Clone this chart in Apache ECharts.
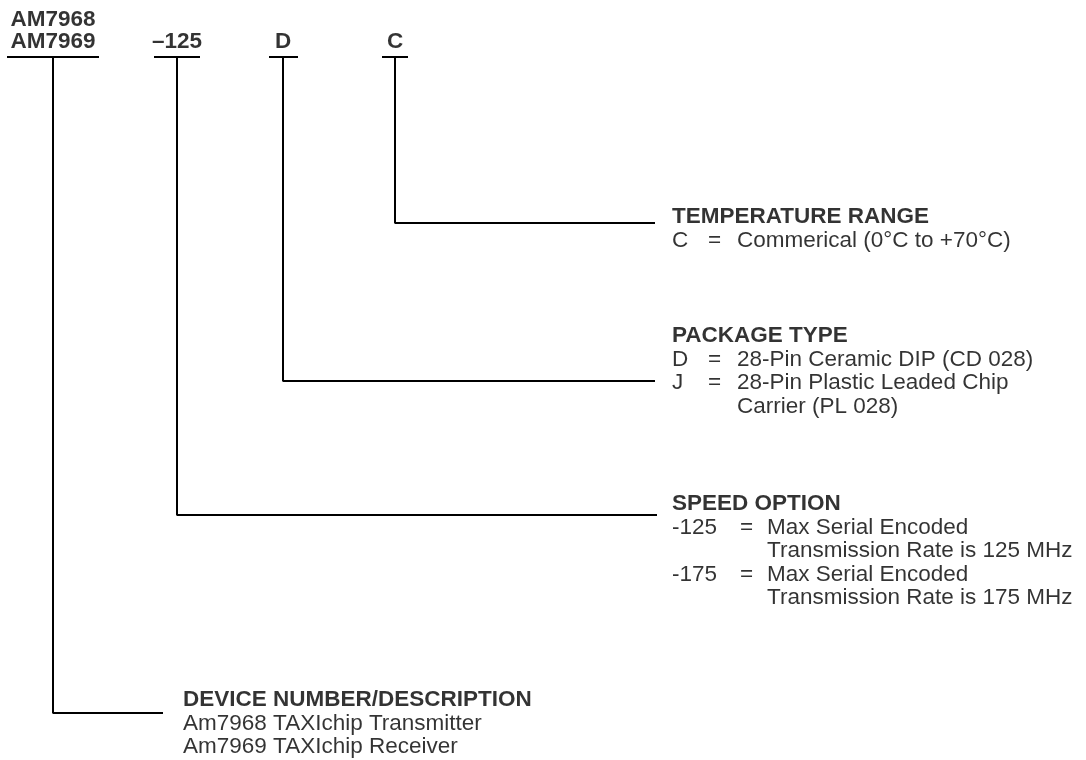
<!DOCTYPE html>
<html>
<head>
<meta charset="utf-8">
<script src="https://cdn.jsdelivr.net/npm/echarts@6/dist/echarts.min.js"></script>
<style>
  html, body { margin: 0; padding: 0; background: #fff; }
  #main { width: 1086px; height: 760px; }
</style>
</head>
<body>
<div id="main"></div>
<script>
// ordering code fields, left to right
const codeParts = ['AM7968\nAM7969', '–125', 'D', 'C'];
const headings = ['DEVICE NUMBER/DESCRIPTION', 'SPEED OPTION', 'PACKAGE TYPE', 'TEMPERATURE RANGE'];
// option rows: [code, description]
const deviceRows = [['', 'Am7968 TAXIchip Transmitter'], ['', 'Am7969 TAXIchip Receiver']];
const speedRows = [
  ['-125', 'Max Serial Encoded'], ['', 'Transmission Rate is 125 MHz'],
  ['-175', 'Max Serial Encoded'], ['', 'Transmission Rate is 175 MHz']
];
const packageRows = [['D', '28-Pin Ceramic DIP (CD 028)'], ['J', '28-Pin Plastic Leaded Chip'], ['', 'Carrier (PL 028)']];
const tempRows = [['C', 'Commerical (0°C to +70°C)']];
const fieldRows = [deviceRows, speedRows, packageRows, tempRows];

// layout (page pixels, y down)
const layout = {
  underlineY: 57,
  underlines: [[7, 99], [154, 200], [269, 298], [382, 408]],
  leadX: [53, 177, 283, 395],
  codeY: [31, 42, 42, 42],
  branchY: [713, 515, 381, 223],
  branchEnd: [163, 657, 655, 655],
  textX: [183, 672, 672, 672],
  eqX: [0, 740, 708, 708],
  valX: [183, 767, 737, 737],
  headY: [700, 504, 336, 217],
  lineGap: 23.5
};

const FONT = '"Liberation Sans", Arial, sans-serif';
const FS = 22.5;

let myChart = echarts.init(document.getElementById('main'));

let series = [];
// underlines and leader lines
codeParts.forEach(function (p, i) {
  let u = layout.underlines[i];
  series.push({
    type: 'line', symbol: 'none', silent: true,
    lineStyle: { color: '#000', width: 2 },
    data: [[u[0], layout.underlineY], [u[1], layout.underlineY]]
  });
  series.push({
    type: 'line', symbol: 'none', silent: true,
    lineStyle: { color: '#000', width: 2 },
    data: [
      [layout.leadX[i], layout.underlineY],
      [layout.leadX[i], layout.branchY[i]],
      [layout.branchEnd[i], layout.branchY[i]]
    ]
  });
});

// code letters on top
series.push({
  type: 'scatter', symbolSize: 0, silent: true,
  data: codeParts.map(function (p, i) {
    return { value: [layout.leadX[i], layout.codeY[i]], name: p };
  }),
  label: {
    show: true, position: 'inside', formatter: '{b}',
    fontFamily: FONT, fontSize: FS, fontWeight: 'bold', color: '#000', lineHeight: 21.5,
    align: 'center', verticalAlign: 'middle'
  }
});

// headings and option text
let bold = [], plain = [];
headings.forEach(function (h, i) {
  bold.push({ value: [layout.textX[i], layout.headY[i]], name: h });
  fieldRows[i].forEach(function (r, k) {
    let y = layout.headY[i] + layout.lineGap * (k + 1);
    if (r[0]) {
      plain.push({ value: [layout.textX[i], y], name: r[0] });
      plain.push({ value: [layout.eqX[i], y], name: '=' });
    }
    plain.push({ value: [layout.valX[i], y], name: r[1] });
  });
});
[[bold, 'bold'], [plain, 'normal']].forEach(function (s) {
  series.push({
    type: 'scatter', symbolSize: 0, silent: true,
    data: s[0],
    label: {
      show: true, position: 'inside', formatter: '{b}',
      fontFamily: FONT, fontSize: FS, fontWeight: s[1], color: '#000',
      align: 'left', verticalAlign: 'middle'
    }
  });
});

let option = {
  backgroundColor: '#fff',
  animation: false,
  grid: { left: 0, right: 0, top: 0, bottom: 0 },
  xAxis: { type: 'value', min: 0, max: 1086, show: false },
  yAxis: { type: 'value', min: 0, max: 760, inverse: true, show: false },
  series: series
};
myChart.setOption(option);
</script>
</body>
</html>
